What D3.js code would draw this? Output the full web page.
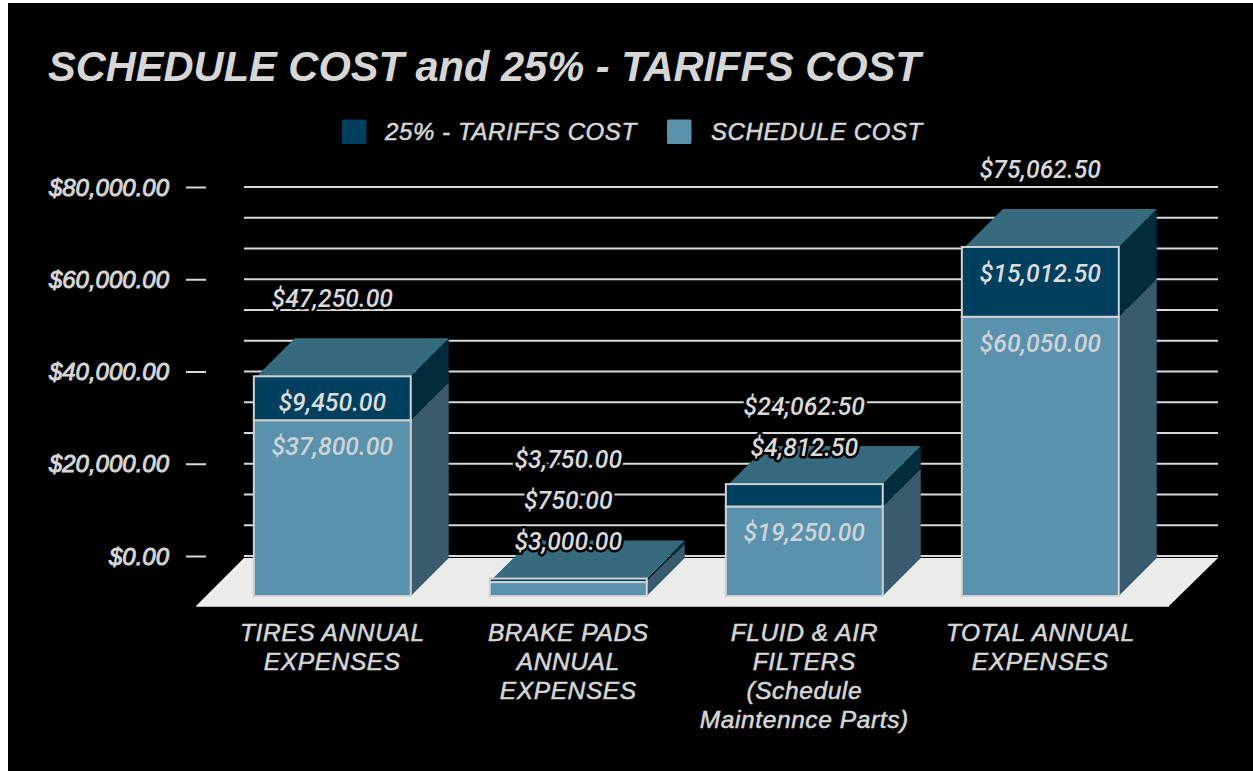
<!DOCTYPE html>
<html><head><meta charset="utf-8">
<script src="https://cdn.jsdelivr.net/npm/d3@7"></script>
<style>
html,body{margin:0;padding:0;background:#fff;overflow:hidden}
svg{display:block}
.sans{font-family:"Liberation Sans",Arial,sans-serif;font-style:italic}
.rob{font-family:Roboto,sans-serif;font-style:italic;font-weight:500}
</style></head><body><svg id="c" width="1253" height="771"></svg>
<script>
const titleText = "SCHEDULE COST and 25% - TARIFFS COST";
const categories = ["TIRES ANNUAL EXPENSES","BRAKE PADS ANNUAL EXPENSES","FLUID & AIR FILTERS (Schedule Maintennce Parts)","TOTAL ANNUAL EXPENSES"];
const categoryLines = [["TIRES ANNUAL","EXPENSES"],["BRAKE PADS","ANNUAL","EXPENSES"],["FLUID & AIR","FILTERS","(Schedule","Maintennce Parts)"],["TOTAL ANNUAL","EXPENSES"]];
const scheduleCost = [37800,3000,19250,60050];
const tariffCost = [9450,750,4812.5,15012.5];
const totalCost = [47250,3750,24062.5,75062.5];
const axisTicks = [0,20000,40000,60000,80000];
const gridTicks = [0,6666.67,13333.33,20000,26666.67,33333.33,40000,46666.67,53333.33,60000,66666.67,73333.33,80000];
const seriesNames = ["25% - TARIFFS COST","SCHEDULE COST"];

const C = {bg:"#000",txt:"#d6d6d6",grid:"#d9d9d9",floor:"#ebebeb",dark:"#003f5e",light:"#5a91ad",top:"#366b7e",rDark:"#022c3b",rLight:"#3a5a6e",edge:"#d2d2d2"};
const depth = 38, W = 1253, H = 771;
const money = d3.format("$,.2f");
const svg = d3.select("#c");
svg.append("rect").attr("x",8).attr("y",3).attr("width",W-8).attr("height",H-3).attr("fill",C.bg);

const yAxisScale = d3.scaleLinear().domain([0,80000]).range([556,187]);
const yBar = d3.scaleLinear().domain([0,80000]).range([596,596-372]);
const x = d3.scaleBand().domain(categories).range([214.3,1158.3]).paddingInner(.335).paddingOuter(.1675);

// title
svg.append("text").attr("class","sans").attr("x",48).attr("y",80.5).attr("fill",C.txt)
  .attr("font-size",41.6).attr("font-weight",700).text(titleText);

// legend
const legend = svg.append("g");
[[342,385,C.dark],[667,711,C.light]].forEach((l,i)=>{
  legend.append("rect").attr("x",l[0]).attr("y",119.5).attr("width",24.5).attr("height",24.5).attr("rx",1.5).attr("fill",l[2]);
  legend.append("text").attr("class","sans").attr("x",l[1]).attr("y",140).attr("fill",C.txt)
    .attr("stroke",C.txt).attr("stroke-width",0.55)
    .attr("font-size",24).style("letter-spacing","0.6px").text(seriesNames[i]);
});

// gridlines
svg.append("g").selectAll("line").data(gridTicks).join("line")
  .attr("x1",244).attr("x2",1218).attr("y1",d=>yAxisScale(d)).attr("y2",d=>yAxisScale(d))
  .attr("stroke",C.grid).attr("stroke-width",2);

// axis
const ax = svg.append("g").attr("transform","translate(206,0)")
  .call(d3.axisLeft(yAxisScale).tickValues(axisTicks).tickSize(20).tickPadding(17).tickFormat(money));
ax.select(".domain").remove();
ax.selectAll(".tick line").attr("stroke",C.grid).attr("stroke-width",2);
ax.selectAll(".tick text").attr("class","sans").attr("fill",C.txt).attr("font-size",24)
  .attr("stroke",C.txt).attr("stroke-width",0.9)
  .attr("font-family",'"Liberation Sans"').attr("dy","0.34em");

// floor
const fy = yBar(0);
svg.append("path").attr("d",`M196,${fy+10}L1169,${fy+10}L1218,558L244,558Z`).attr("fill",C.floor);
svg.append("line").attr("x1",196).attr("x2",1169).attr("y1",fy+10.5).attr("y2",fy+10.5).attr("stroke","#b5b5b5").attr("stroke-width",1);

// bars
const poly = pts => "M"+pts.map(p=>p.join(",")).join("L")+"Z";
const bars = svg.append("g");
const labels = [];
categories.forEach((cat,i)=>{
  const x0 = x(cat), x1 = x0 + x.bandwidth();
  const yS = yBar(scheduleCost[i]), yT = yBar(totalCost[i]), y0 = yBar(0);
  const g = bars.append("g");
  // right faces
  g.append("path").attr("d",poly([[x1,y0],[x1+depth,y0-depth],[x1+depth,yS-depth],[x1,yS]])).attr("fill",C.rLight);
  g.append("path").attr("d",poly([[x1,yS],[x1+depth,yS-depth],[x1+depth,yT-depth],[x1,yT]])).attr("fill",C.rDark);
  // top
  g.append("path").attr("d",poly([[x0+3,yT],[x1,yT],[x1+depth,yT-depth],[x0+3+depth,yT-depth]])).attr("fill",C.top);
  // fronts
  g.append("rect").attr("x",x0).attr("y",yS).attr("width",x.bandwidth()).attr("height",y0-yS).attr("fill",C.light).attr("stroke",C.edge).attr("stroke-width",2);
  g.append("rect").attr("x",x0).attr("y",yT).attr("width",x.bandwidth()).attr("height",yS-yT).attr("fill",C.dark).attr("stroke",C.edge).attr("stroke-width",2);
  // labels: inside when the segment has room, else stacked over the bar
  const cx = x0 + x.bandwidth()/2;
  let stack = 0;
  const float = (v)=>{ labels.push({cx,y:yT-37-stack*41,v,halo:true}); stack++; };
  if (y0-yS >= 40) labels.push({cx,y:yS+26,v:scheduleCost[i],fill:"#cfd3d6"}); else float(scheduleCost[i]);
  if (yS-yT >= 40) labels.push({cx,y:yT+26,v:tariffCost[i],fill:"#dcdcdc"}); else float(tariffCost[i]);
  labels.push({cx,y:yT-37-Math.max(stack,1)*41,v:totalCost[i],halo:true});
});

// data labels
svg.append("g").selectAll("text").data(labels).join("text").attr("class","rob")
  .attr("x",d=>d.cx).attr("y",d=>d.y).attr("dy","0.36em").attr("text-anchor","middle")
  .attr("font-size",24.8).attr("fill",d=>d.fill||"#d9d9d9")
  .attr("stroke",d=>d.halo?"#000":"none").attr("stroke-width",d=>d.halo?5:0)
  .attr("stroke-linejoin","round").style("paint-order","stroke").text(d=>money(d.v));

// category labels
categories.forEach((cat,i)=>{
  const t = svg.append("text").attr("class","sans").attr("text-anchor","middle").attr("fill",C.txt).attr("font-size",24.5)
    .attr("stroke",C.txt).attr("stroke-width",0.55).style("letter-spacing","0.6px");
  categoryLines[i].forEach((ln,j)=>t.append("tspan").attr("x",x(cat)+x.bandwidth()/2).attr("y",641+j*29).text(ln));
});
</script></body></html>
